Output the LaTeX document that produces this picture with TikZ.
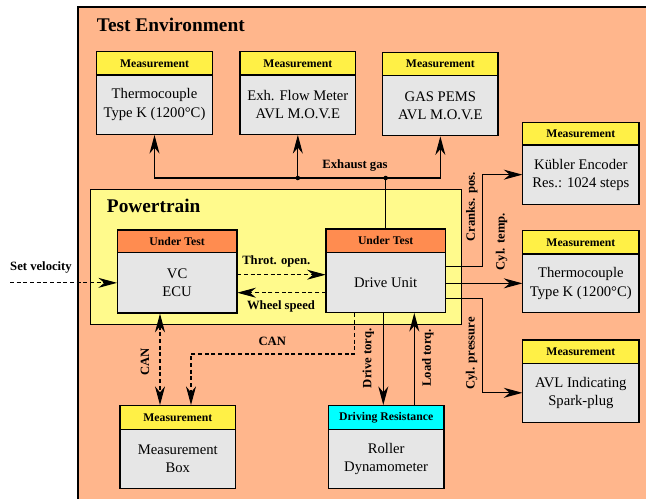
\documentclass[tikz,border=0pt]{standalone}
\usepackage{fontspec}
\setmainfont{Liberation Serif}
\usetikzlibrary{arrows.meta,fit}

\definecolor{envfill}{RGB}{255,182,140}
\definecolor{ptfill}{RGB}{255,250,140}
\definecolor{measfill}{RGB}{255,240,70}
\definecolor{testfill}{RGB}{255,140,80}
\definecolor{drfill}{RGB}{0,255,255}
\definecolor{bodyfill}{RGB}{230,230,230}

\tikzset{
  frame/.style={draw, line width=1pt, inner sep=0pt},
  hdrtext/.style={font=\fontsize{8.8}{10}\selectfont\bfseries, inner sep=0pt},
  bodytext/.style={font=\fontsize{11}{13.75}\selectfont, align=center, inner sep=0pt},
  headtip/.tip={Stealth[length=14pt,width=7.5pt,inset=4.5pt]},
  tip/.style={-headtip},
  bothtips/.style={headtip-headtip},
  link/.style={line width=0.8pt},
  dashlink/.style={link, dash pattern=on 3pt off 2pt},
  lbl/.style={font=\fontsize{9.5}{11}\selectfont\bfseries, inner sep=1pt},
  titletext/.style={font=\fontsize{14.5}{16}\selectfont\bfseries, inner sep=0pt, anchor=west},
}

% #1 name, #2 left, #3 top, #4 right, #5 header bottom, #6 bottom,
% #7 header colour, #8 header text, #9 body text
\newcommand\devicebox[9]{%
  \node[frame, fill=bodyfill, fit={(#2,#3) (#4,#6)}] (#1) {};
  \node[frame, fill=#7, fit={(#2,#3) (#4,#5)}, label={[hdrtext]center:{#8}}] (#1h) {};
  \node[inner sep=0pt, fit={(#2,#5) (#4,#6)}, label={[bodytext]center:{#9}}] (#1b) {};
}

\begin{document}
\begin{tikzpicture}[x=0.75pt, y=-0.75pt]
  \useasboundingbox (0,0) rectangle (646,499);
  \clip (0,0) rectangle (646,499);

  % test environment
  \node[frame, fill=envfill, fit={(78,7) (670,520)}] (env) {};
  \node[titletext] (envtitle) at (96.7,25) {Test Environment};

  % powertrain
  \node[frame, fill=ptfill, fit={(90.7,189.3) (461.3,324.3)}] (pt) {};
  \node[titletext] (pttitle) at (106.7,206) {Powertrain};

  % devices
  \devicebox{tca}{96.7}{51.7}{212.3}{75}{134.3}{measfill}{Measurement}{Thermocouple\\Type K (1200°C)}
  \devicebox{flow}{240}{51.7}{355.7}{75}{134.3}{measfill}{Measurement}{Exh. Flow Meter\\AVL M.O.V.E}
  \devicebox{gas}{382.7}{52.3}{498}{75.7}{135.7}{measfill}{Measurement}{GAS PEMS\\AVL M.O.V.E}
  \devicebox{kub}{522.7}{122.3}{639}{145}{204.3}{measfill}{Measurement}{Kübler Encoder\\Res.: 1024 steps}
  \devicebox{tcb}{522.7}{230.7}{639}{254}{312.7}{measfill}{Measurement}{Thermocouple\\Type K (1200°C)}
  \devicebox{avl}{522.7}{340}{639}{363.3}{422.3}{measfill}{Measurement}{AVL Indicating\\Spark-plug}
  \devicebox{vc}{117.3}{230}{237}{252.7}{313}{testfill}{Under Test}{VC\\ECU}
  \devicebox{du}{326}{229}{445.3}{252.3}{312.3}{testfill}{Under Test}{Drive Unit}
  \devicebox{mb}{120}{405.7}{235.7}{429.3}{488.3}{measfill}{Measurement}{Measurement\\Box}
  \devicebox{rd}{328.3}{405.7}{444}{429.3}{488.3}{drfill}{Driving Resistance}{Roller\\Dynamometer}

  % exhaust gas distribution
  \coordinate (ex) at (du.north |- 0,178);
  \draw[link] (du.north) -- (ex);
  \draw[link, tip] (ex) -| (tca.south);
  \draw[link, tip] (ex) -| (gas.south);
  \draw[link, tip] (flow.south |- ex) -- (flow.south);
  \fill (ex) circle[radius=1.7pt];
  \fill (flow.south |- ex) circle[radius=1.7pt];
  \node[lbl] (exlbl) at (355,166) {Exhaust gas};

  % set velocity and powertrain signals
  \coordinate (sv) at (10,0);
  \draw[dashlink, tip] (vcb.west -| sv) -- (vcb.west);
  \node[lbl] (svlbl) at (41,267.3) {Set velocity};
  \draw[dashlink, tip] (vcb.east |- 0,274.7) -- (dub.west |- 0,274.7);
  \node[lbl] (thlbl) at (276.3,261.7) {Throt. open.};
  \draw[dashlink, tip] (dub.west |- 0,292.7) -- (vcb.east |- 0,292.7);
  \node[lbl] (wslbl) at (281,306) {Wheel speed};

  % drive unit sensors
  \draw[link, tip] (du.east |- 0,266.7) -- (482.7,266.7) |- (kubb.west);
  \node[lbl, rotate=90] (crlbl) at (471.7,206.7) {Cranks. pos.};
  \draw[link, tip] (du.east |- tcbb.west) -- (tcbb.west);
  \node[lbl, rotate=90] (ctlbl) at (501.7,241.7) {Cyl. temp.};
  \draw[link, tip] (du.east |- 0,298.3) -- (482.7,298.3) |- (avlb.west);
  \node[lbl, rotate=90] (cplbl) at (471.7,353.3) {Cyl. pressure};

  % CAN links
  \draw[dashlink, bothtips] (vc.south -| 160,0) -- (mb.north -| 160,0);
  \node[lbl, rotate=90] (can1lbl) at (145,361.7) {CAN};
  \draw[dashlink, tip] (du.south -| 354.3,0) |- (191,354) -- (mb.north -| 191,0);
  \node[lbl] (can2lbl) at (272.3,341.7) {CAN};

  % torque exchange with the dynamometer
  \draw[link, tip] (du.south -| 383.3,0) -- (rd.north -| 383.3,0);
  \node[lbl, rotate=90] (dtlbl) at (368.3,358.3) {Drive torq.};
  \draw[link, tip] (rd.north -| 414.3,0) -- (du.south -| 414.3,0);
  \node[lbl, rotate=90] (ltlbl) at (427.7,358) {Load torq.};
\end{tikzpicture}
\end{document}
